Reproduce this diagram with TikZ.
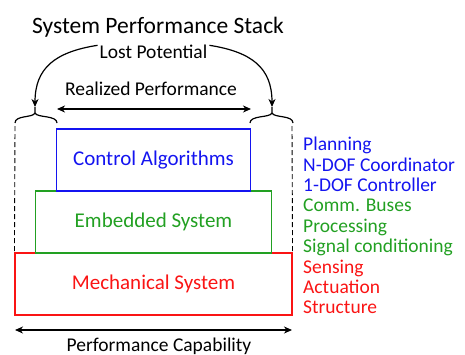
\documentclass[tikz,border=0pt]{standalone}
\usepackage{fontspec}
\setmainfont{Carlito}
\usetikzlibrary{arrows.meta}
\definecolor{cblue}{RGB}{20,20,240}
\definecolor{cgreen}{RGB}{34,160,34}
\definecolor{cred}{RGB}{250,20,20}
\tikzset{
  layer/.style={draw, line width=1.1pt, minimum height=62pt, inner sep=0pt, font=\fontsize{21}{24}\selectfont},
  lbl/.style={inner sep=0pt, anchor=base, font=\fontsize{19.5}{22}\selectfont},
  side/.style={inner sep=0pt, anchor=base west, font=\fontsize{19.5}{22}\selectfont},
  dim/.style={line width=1.2pt, {Stealth[length=8pt,width=7pt,inset=2.5pt]}-{Stealth[length=8pt,width=7pt,inset=2.5pt]}},
  loss/.style={line width=1.2pt, -{Stealth[length=8pt,width=7pt,inset=2.5pt]}},
  brace/.style={line width=1.2pt},
  guide/.style={dashed, line width=0.9pt, dash pattern=on 5pt off 3pt}
}
\begin{document}
\begin{tikzpicture}[x=1pt,y=-1pt]
\useasboundingbox (0,0) rectangle (465,354);

% title
\node[lbl, font=\fontsize{23.5}{26}\selectfont] (title) at (158,33) {System Performance Stack};

% stack of layers
\node[layer, cred, minimum width=277pt, text=cred] (mech) at (153.5,284) {Mechanical System};
\node[layer, cgreen, minimum width=236pt, text=cgreen] (emb) at (153.5,222) {Embedded System};
\node[layer, cblue, minimum width=194pt, text=cblue] (ctrl) at (153.5,160) {Control Algorithms};

% braces above the widest layer
\coordinate (lb) at (35,107);
\coordinate (rb) at (272,107);
\draw[brace] (15,123) .. controls (15,115) and (33,118) .. (35,113) -- (lb);
\draw[brace] (57,123) .. controls (57,115) and (37,118) .. (35,113);
\draw[brace] (250,123) .. controls (250,115) and (270,118) .. (272,113) -- (rb);
\draw[brace] (293,123) .. controls (293,115) and (274,118) .. (272,113);

% dashed guides down to the mechanical layer
\coordinate (gl) at (15,126);
\coordinate (gr) at (292,126);
\draw[guide] (gl) -- (mech.north west);
\draw[guide] (gr) -- (mech.north east);

% realized performance
\node[lbl] (real) at (151,95) {Realized Performance};
\coordinate (ra) at (57,109);
\coordinate (rz) at (251,109);
\draw[dim] (ra) -- (rz);

% lost potential
\node[lbl] (lost) at (153.5,58) {Lost Potential};
\draw[loss] (lost.west) ++(-2,-6) .. controls (55,52) and (35,68) .. (lb);
\draw[loss] (lost.east) ++(2,-6) .. controls (252,52) and (272,68) .. (rb);

% performance capability
\coordinate (pa) at (15,330);
\coordinate (pz) at (292,330);
\draw[dim] (pa) -- (pz);
\node[lbl] (cap) at (159,351) {Performance Capability};

% side list
\foreach \t/\c [count=\i from 0] in {Planning/cblue, N-DOF Coordinator/cblue, 1-DOF Controller/cblue,
    Comm. Buses/cgreen, Processing/cgreen, Signal conditioning/cgreen,
    Sensing/cred, Actuation/cred, Structure/cred}
  \node[side, text=\c] (s\i) at (303,150.7+20.4*\i) {\t};
\end{tikzpicture}
\end{document}
